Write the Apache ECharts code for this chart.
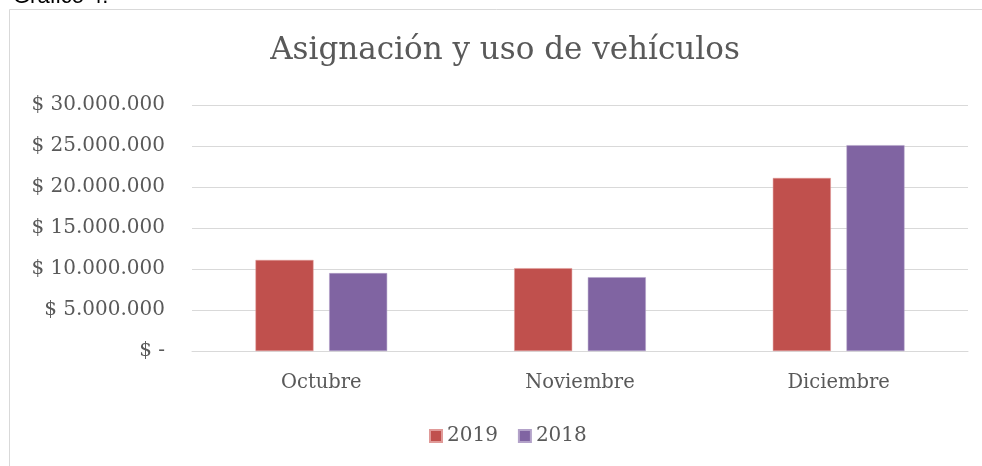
<!DOCTYPE html>
<html>
<head>
<meta charset="utf-8">
<script src="https://cdn.jsdelivr.net/npm/echarts@6/dist/echarts.min.js"></script>
<style>
  html, body { margin: 0; padding: 0; background: #fff; }
  #chart { width: 982px; height: 466px; }
</style>
</head>
<body>
<div id="chart"></div>
<script>
// datos del gráfico
var meses = ['Octubre', 'Noviembre', 'Diciembre']
var valores2019 = [11100000, 10100000, 21100000]
var valores2018 = [9500000, 9000000, 25100000]
var serieNombres = ['2019', '2018']

var colores = ['#C0504D', '#8064A2']
var gris = '#595959'
var fuente = 'DejaVu Serif'

function formatoPeso(v) {
  if (v === 0) return '$ -'
  return '$ ' + String(v).replace(/\B(?=(\d{3})+(?!\d))/g, '.')
}

var chart = echarts.init(document.getElementById('chart'), null, { renderer: 'canvas' })

var option = {
  backgroundColor: '#fff',
  animation: false,
  color: colores,
  title: {
    text: 'Asignación y uso de vehículos',
    left: 500,
    top: 30,
    textAlign: 'center',
    textStyle: {
      fontFamily: fuente,
      fontSize: 31,
      fontWeight: 'normal',
      color: gris
    }
  },
  legend: {
    left: 424,
    top: 421,
    itemWidth: 12,
    itemHeight: 12,
    itemGap: 20,
    icon: 'rect',
    data: serieNombres,
    textStyle: {
      fontFamily: fuente,
      fontSize: 20,
      color: gris
    }
  },
  grid: {
    left: 192,
    right: 14,
    top: 105,
    height: 246
  },
  xAxis: {
    type: 'category',
    data: meses,
    axisTick: { show: false },
    axisLine: { lineStyle: { color: '#d9d9d9', width: 1 } },
    axisLabel: {
      margin: 22,
      fontFamily: fuente,
      fontSize: 19.5,
      color: gris
    }
  },
  yAxis: {
    type: 'value',
    min: 0,
    max: 30000000,
    interval: 5000000,
    axisLine: { show: false },
    axisTick: { show: false },
    splitLine: { lineStyle: { color: '#d9d9d9', width: 1 } },
    axisLabel: {
      margin: 27,
      fontFamily: fuente,
      fontSize: 20,
      color: gris,
      formatter: formatoPeso
    }
  },
  series: [
    {
      name: serieNombres[0],
      type: 'bar',
      data: valores2019,
      barWidth: 58,
      barGap: '27%',
      itemStyle: { borderColor: '#e09a98', borderWidth: 0.5 }
    },
    {
      name: serieNombres[1],
      type: 'bar',
      data: valores2018,
      barWidth: 58,
      barGap: '27%',
      itemStyle: { borderColor: '#b3a2c9', borderWidth: 0.5 }
    }
  ],
  graphic: [
    {
      type: 'rect',
      shape: { x: 9.5, y: 9.5, width: 1000, height: 480 },
      style: { fill: 'none', stroke: '#d9d9d9', lineWidth: 1 },
      silent: true
    },
    {
      type: 'text',
      x: 13,
      y: -3,
      style: {
        text: 'Gráfico 4.',
        font: '22px "Liberation Sans", Arial, sans-serif',
        fill: '#000',
        verticalAlign: 'middle'
      },
      silent: true
    }
  ]
}

chart.setOption(option)
</script>
</body>
</html>
